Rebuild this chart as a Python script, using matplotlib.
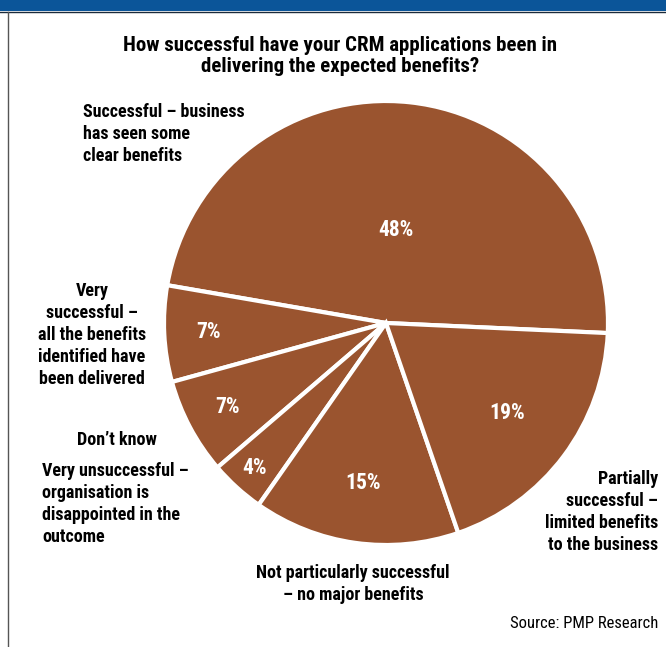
import matplotlib.pyplot as plt
import numpy as np
from matplotlib.patches import Rectangle
from matplotlib.lines import Line2D

# survey results, counter-clockwise from the right-hand edge
categories = ["Successful – business\nhas seen some\nclear benefits",
              "Very\nsuccessful –\nall the benefits\nidentified have\nbeen delivered",
              "Don’t know",
              "Very unsuccessful –\norganisation is\ndisappointed in the\noutcome",
              "Not particularly successful\n– no major benefits",
              "Partially\nsuccessful –\nlimited benefits\nto the business"]
shares = [48, 7, 7, 4, 15, 19]

title = "How successful have your CRM applications been in\ndelivering the expected benefits?"
source = "Source: PMP Research"

plt.rcParams['font.family'] = ['Roboto Condensed', 'DejaVu Sans']

W, H = 666, 647
fig = plt.figure(figsize=(W / 100, H / 100), dpi=100)

def fx(px):
    return px / W

def fy(py):
    return 1 - py / H

# blue header strip and frame line
fig.patches.append(Rectangle((0, fy(11)), 1, 1, transform=fig.transFigure,
                             facecolor='#0b5599', edgecolor='none'))
fig.lines.append(Line2D([0, 1], [fy(11.5), fy(11.5)], transform=fig.transFigure,
                        color='#1a2a3a', lw=1))
fig.lines.append(Line2D([fx(8), fx(8)], [0, fy(11.5)], transform=fig.transFigure,
                        color='#555555', lw=1))

cx, cy, r = 386, 323, 222
ax = fig.add_axes([fx(cx - r), fy(cy + r), 2 * r / W, 2 * r / H])
wedges, _ = ax.pie(shares, startangle=-2.6, counterclock=True, colors=['#9a542f'] * len(shares),
                   wedgeprops=dict(edgecolor='white', linewidth=3))
ax.set_xlim(-1, 1)
ax.set_ylim(-1, 1)
ax.set_aspect('equal')
ax.axis('off')

# percentage labels sit at different depths inside each slice
depth = [0.42, 0.8, 0.81, 0.88, 0.73, 0.68]
for w, s, d in zip(wedges, shares, depth):
    a = np.deg2rad((w.theta1 + w.theta2) / 2)
    ax.text(d * np.cos(a), d * np.sin(a), f"{s}%", color='white', fontsize=15.5,
            fontweight='bold', ha='center', va='center')

fig.text(fx(340), fy(56), title, ha='center', va='center', fontsize=15,
         fontweight='bold', linespacing=1.12)

lbl = dict(fontsize=13, fontweight='bold', linespacing=1.3)
fig.text(fx(83), fy(134), categories[0], ha='left', va='center', **lbl)
fig.text(fx(92), fy(335), categories[1], ha='center', va='center', multialignment='center', **lbl)
fig.text(fx(77), fy(440), categories[2], ha='left', va='center', **lbl)
fig.text(fx(42), fy(504), categories[3], ha='left', va='center', **lbl)
fig.text(fx(353), fy(584), categories[4], ha='center', va='center', multialignment='center', **lbl)
fig.text(fx(658), fy(512), categories[5], ha='right', va='center', multialignment='right', **lbl)

fig.text(fx(658), fy(623), source, ha='right', va='center', fontsize=12)

fig.savefig('out.png', dpi=100)
